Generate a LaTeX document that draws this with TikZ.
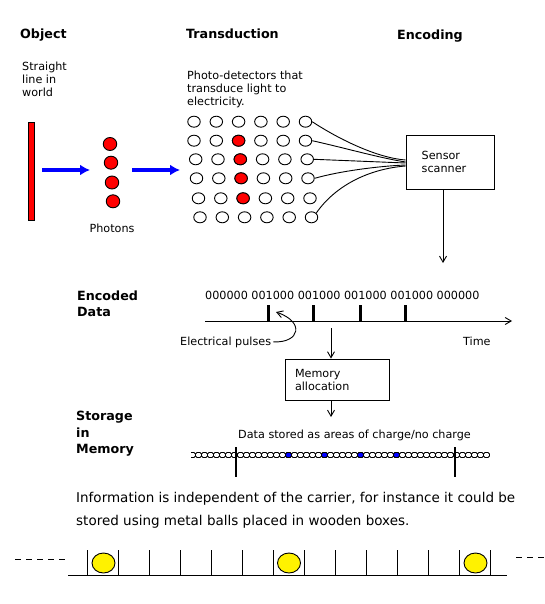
\documentclass[tikz,border=0pt]{standalone}
\usepackage{fontspec}
\setmainfont{DejaVu Sans}
\usetikzlibrary{arrows.meta,shapes.geometric,positioning}
\usepackage{xcolor}

\tikzset{
  txt/.style={font=\fontsize{11.2}{13}\selectfont, inner sep=0pt, align=left},
  head/.style={font=\fontsize{12.7}{16.5}\selectfont\bfseries, inner sep=0pt, align=left, anchor=north west},
  note/.style={font=\fontsize{13.5}{23}\selectfont, inner sep=0pt, align=left, anchor=north west},
  wire/.style={line width=0.9pt},
  vee/.style={wire, -{Straight Barb[length=6pt,width=7pt]}},
  flow/.style={blue, line width=3.5pt, -{Latex[length=10pt,width=11pt]}},
  pd/.style={ellipse, draw, line width=0.9pt, fill=white, minimum width=12.5pt, minimum height=11pt, inner sep=0pt},
  lit/.style={pd, fill=red},
  photon/.style={pd, fill=red, minimum width=13.5pt, minimum height=13pt},
  box/.style={draw, line width=0.9pt, txt, inner ysep=0pt},
  cell/.style={line width=0.8pt, rounded corners=1.5pt},
  ball/.style={wire, fill=yellow}
}

\begin{document}
\begin{tikzpicture}[x=1pt, y=-1pt]
    \useasboundingbox (0,0) rectangle (544,604);
    % Headings
    \node[head] (obj) at (20,28.3) {Object};
    \node[head] (trans) at (186,28.3) {Transduction};
    \node[head] (enc) at (397,29.3) {Encoding};
    % Object and photons
    \node[txt, anchor=north west] (world) at (22,61.5) {Straight\\line in\\world};
    \node[draw, wire, fill=red, minimum width=6pt, minimum height=98pt, inner sep=0pt] (bar) at (31,171) {};
    \node[photon] (ph1) at (110,144) {};
    \node[photon] (ph2) at (111,162.7) {};
    \node[photon] (ph3) at (112,182.5) {};
    \node[photon] (ph4) at (113,201.3) {};
    \node[txt, anchor=base] (phot) at (112,232.6) {Photons};
    \coordinate (fa) at (42,170);
    \coordinate (fb) at (90,170);
    \coordinate (fc) at (132,170);
    \coordinate (fd) at (180,170);
    \draw[flow] (fa) -- (fb);
    \draw[flow] (fc) -- (fd);
    % Photo-detectors
    \node[txt, anchor=north west] (pdtxt) at (187,71) {Photo-detectors that\\transduce light to\\electricity.};
    \foreach \r/\x/\y in {1/194/121.7, 2/194/140.7, 3/195.7/159.3, 4/196.5/178.3, 5/198.5/198.3, 6/200/217.3}
        \foreach \c in {1,...,6}
            \node[pd] (d\r-\c) at ({\x+22.3*(\c-1)},\y) {};
    \foreach \r in {2,...,5}
        \node[lit] (lit\r) at (d\r-3) {};
    % Sensor scanner
    \node[box, text width=56.6pt, inner xsep=15.7pt, minimum height=54pt] (sensor) at (450,162) {Sensor\\scanner};
    \draw[wire] (d1-6.east) .. controls (340,140) and (378,158) .. ([yshift=2pt]sensor.west);
    \draw[wire] (d2-6.east) .. controls (345,148) and (380,158) .. (sensor.west);
    \draw[wire] (d3-6.east) -- ([yshift=-1pt]sensor.west);
    \draw[wire] (d4-6.east) .. controls (340,171) and (380,166) .. ([yshift=-3pt]sensor.west);
    \draw[wire] (d6-6.north east) .. controls (335,186) and (368,169) .. ([yshift=-4pt]sensor.west);
    \coordinate (encin) at (443,263);
    \draw[vee] ([xshift=-7pt]sensor.south) -- (encin);
    % Encoded data
    \node[head] (encd) at (77,290.3) {Encoded\\Data};
    \node[txt, anchor=base west] (bits) at (205,299) {000000 001000 001000 001000 001000 000000};
    \coordinate (t0) at (205,321);
    \coordinate (t1) at (512,321);
    \draw[vee] (t0) -- (t1);
    \foreach \p [count=\k] in {268,313,360,405}
        \draw[line width=3pt] (\p,305) coordinate (p\k) -- (\p,321);
    \node[txt, anchor=base west] (epl) at (180,345) {Electrical pulses};
    \node[txt, anchor=base west] (time) at (463,345) {Time};
    \draw[vee] ([xshift=2pt]epl.east) .. controls (300,343) and (305,322) .. ([xshift=8pt,yshift=-7pt]p1);
    % Memory allocation
    \node[box, text width=84pt, inner xsep=10pt, minimum height=41pt] (mem) at (337,379.5) {Memory\\allocation};
    \coordinate (a0) at (331,328);
    \coordinate (a1) at (331,417);
    \draw[vee] (a0) -- ([xshift=-6pt]mem.north);
    \draw[vee] ([xshift=-6pt]mem.south) -- (a1);
    % Storage in memory
    \node[head] (stor) at (76,410.9) {Storage\\in\\Memory};
    \node[txt, anchor=base west] (charge) at (238,438) {Data stored as areas of charge/no charge};
    \begin{scope}
        \clip (191,448) rectangle (495,462);
        \foreach \i in {0,...,49}
            \draw[cell] ({189.5+6*\i},452.5) rectangle ++(6,5);
        \foreach \i in {16,22,28,34}
            \draw[cell, fill=blue] ({189.5+6*\i},452.5) rectangle ++(6,5);
    \end{scope}
    \draw[line width=1.2pt] (236,447) -- (236,477);
    \draw[line width=1.2pt] (455,447) -- (455,477);
    % Metal balls in wooden boxes
    \node[note] (info) at (76,491.7) {Information is independent of the carrier, for instance it could be\\stored using metal balls placed in wooden boxes.};
    \draw[wire] (68,575) -- (507,575);
    \foreach \k in {0,...,13}
        \draw[wire] ({87+31*\k},550) -- ++(0,25);
    \foreach \b in {103.5,289,475.5}
        \draw[ball] (\b,563) ellipse [x radius=11.5, y radius=10];
    \draw[wire, dash pattern=on 6pt off 5pt] (15,559) -- (69,559);
    \draw[wire, dash pattern=on 6pt off 5pt] (516,557) -- (544,557);
\end{tikzpicture}
\end{document}
